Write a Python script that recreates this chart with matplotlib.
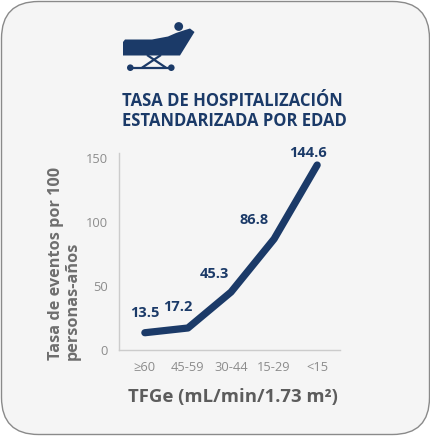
import numpy as np
import matplotlib
matplotlib.use("Agg")
import matplotlib.pyplot as plt
from matplotlib.patches import FancyBboxPatch, Circle, Polygon

# data
categories = ["≥60", "45-59", "30-44", "15-29", "<15"]
rates = [13.5, 17.2, 45.3, 86.8, 144.6]
rate_labels = ["13.5", "17.2", "45.3", "86.8", "144.6"]
yticks = [0, 50, 100, 150]

title = "TASA DE HOSPITALIZACIÓN\nESTANDARIZADA POR EDAD"
ylabel = "Tasa de eventos por 100\npersonas-años"
xlabel = "TFGe (mL/min/1.73 m²)"

navy = "#1b3a68"
plt.rcParams['font.family'] = ['Open Sans', 'DejaVu Sans']

W, H = 431, 436
fig = plt.figure(figsize=(W / 100, H / 100), dpi=100)
fig.patch.set_facecolor("white")

# background layer in pixel units (y down)
bg = fig.add_axes([0, 0, 1, 1], zorder=0)
bg.set_xlim(0, W)
bg.set_ylim(H, 0)
bg.axis("off")
card = FancyBboxPatch((1.5, 1.5), W - 3, H - 3,
                      boxstyle="round,pad=0,rounding_size=37",
                      facecolor="#f5f5f5", edgecolor="#8a8a8a", lw=1.0)
bg.add_patch(card)

# hospital bed icon
bed = Polygon([(123, 42), (125, 39.5), (152, 39.5), (168, 36.5), (176, 33),
               (185, 30), (190, 28.5), (194.5, 32), (180, 55.5), (123, 55.5)],
              closed=True, facecolor=navy, edgecolor="none")
bg.add_patch(bed)
bg.add_patch(Circle((178.7, 26.5), 4.4, facecolor=navy, edgecolor="none"))
bg.plot([147, 166], [55, 67.7], color=navy, lw=1.6, solid_capstyle="butt")
bg.plot([161, 142], [55, 67.7], color=navy, lw=1.6, solid_capstyle="butt")
bg.plot([130.3, 171.3], [67.7, 67.7], color=navy, lw=1.6)
bg.add_patch(Circle((130.3, 67.7), 3.3, facecolor=navy, edgecolor="none"))
bg.add_patch(Circle((171.3, 67.7), 3.3, facecolor=navy, edgecolor="none"))

fig.text(122 / W, 1 - 111 / H, title, ha="left", va="center", color=navy,
         fontsize=12, fontweight="bold", linespacing=1.1)

# main chart
ax = fig.add_axes([119 / W, 1 - 350 / H, (340 - 119) / W, (350 - 153) / H], zorder=1)
ax.patch.set_alpha(0)
x = np.arange(len(categories))
ax.plot(x, rates, color=navy, lw=5.2, solid_capstyle="round", solid_joinstyle="round")
ax.set_xlim(-0.6, 4.53)
ax.set_ylim(0, 154)
ax.set_xticks(x)
ax.set_xticklabels(categories)
ax.set_yticks(yticks)
ax.tick_params(length=0, labelsize=9.3, labelcolor="#8c8c8c")
ax.tick_params(axis="x", pad=8)
ax.tick_params(axis="y", pad=8)
for s in ["top", "right"]:
    ax.spines[s].set_visible(False)
for s in ["left", "bottom"]:
    ax.spines[s].set_color("#cccccc")
    ax.spines[s].set_linewidth(1.0)

offsets = [(0, 20), (-10, 21), (-17, 18), (-20, 19), (-9, 12)]
for xi, v, lab, off in zip(x, rates, rate_labels, offsets):
    ax.annotate(lab, (xi, v), xytext=off, textcoords="offset pixels",
                ha="center", va="center", color=navy, fontsize=10.5,
                fontweight="bold")

fig.text(64.5 / W, 1 - 360 / H, ylabel, rotation=90, ha="center", va="bottom",
         multialignment="left", color="#6e6e6e", fontsize=11.7,
         fontweight="bold", linespacing=1.1)
fig.text(233 / W, 1 - 397 / H, xlabel, ha="center", va="center",
         color="#5c5c5c", fontsize=13.3, fontweight="bold")

fig.savefig("out.png", dpi=100)
